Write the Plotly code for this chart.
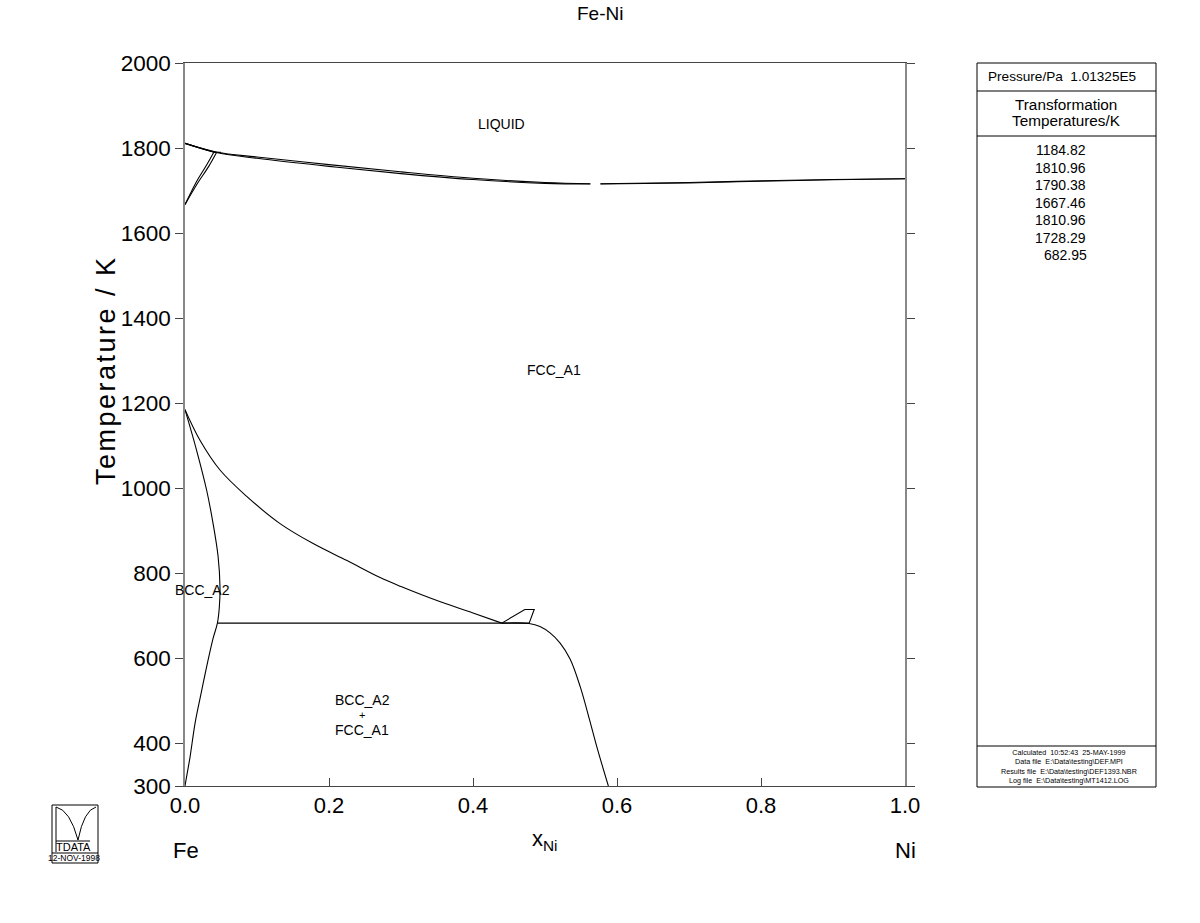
import plotly.graph_objects as go

# ---------------- data ----------------
liq_x = [0.0, 0.045, 0.1, 0.2, 0.3, 0.4, 0.5, 0.563]
liq_y = [1811, 1790, 1779, 1761, 1744, 1729, 1719, 1716]
sol_x = [0.0, 0.045, 0.1, 0.2, 0.3, 0.4, 0.5, 0.563]
sol_y = [1811, 1789, 1776, 1757, 1740, 1726, 1717, 1715.5]
liq2_x = [0.577, 0.7, 0.8, 0.9, 1.0]
liq2_y = [1716, 1719, 1723, 1726, 1728]
sol2_x = [0.577, 0.7, 0.8, 0.9, 1.0]
sol2_y = [1715.5, 1718, 1722, 1725.5, 1728]

delta_sol_x = [0.0, 0.040]
delta_sol_y = [1811, 1790]
delta_a_x = [0.0, 0.015, 0.030, 0.040]
delta_a_y = [1667, 1718, 1760, 1790]
delta_b_x = [0.0, 0.017, 0.033, 0.044]
delta_b_y = [1667, 1716, 1757, 1790]
perit_x = [0.040, 0.050]
perit_y = [1790, 1790]

fcc_x = [0.0, 0.0208, 0.0486, 0.0857, 0.132, 0.178, 0.225, 0.271, 0.3, 0.35, 0.4, 0.44]
fcc_y = [1185, 1113, 1043, 981, 917, 870, 830, 790, 769, 736, 707, 683]

bcc_x = [0.0, 0.016, 0.030, 0.039, 0.046, 0.0486, 0.0477, 0.045,
         0.039, 0.030, 0.022, 0.014, 0.007, 0.002, 0.0]
bcc_y = [1185, 1090, 996, 917, 839, 768, 721, 683,
         647, 580, 515, 448, 368, 320, 300]

eut_x = [0.045, 0.478]
eut_y = [683, 683]

fcc2_x = [0.440, 0.478, 0.493, 0.507, 0.521, 0.535, 0.549, 0.562, 0.572, 0.588]
fcc2_y = [683, 682, 675, 660, 636, 598, 533, 455, 392, 300]

spike_x = [0.440, 0.472, 0.485, 0.478]
spike_y = [683, 715, 715, 683]

x_ticks = [0.0, 0.2, 0.4, 0.6, 0.8, 1.0]
x_tick_text = ["0.0", "0.2", "0.4", "0.6", "0.8", "1.0"]
y_ticks = [300, 400, 600, 800, 1000, 1200, 1400, 1600, 1800, 2000]

phase_labels = ["LIQUID", "FCC_A1", "BCC_A2", "BCC_A2", "+", "FCC_A1"]
phase_x = [0.439, 0.513, 0.024, 0.246, 0.246, 0.246]
phase_y = [1856, 1278, 761, 502, 467, 431]
phase_size = [14, 14, 14, 14, 11, 14]

trans_temps = ["1184.82", "1810.96", "1790.38", "1667.46", "1810.96", "1728.29", "682.95"]
footer_lines = ["Calculated  10:52:43  25-MAY-1999",
                "Data file  E:\\Data\\testing\\DEF.MPI",
                "Results file  E:\\Data\\testing\\DEF1393.NBR",
                "Log file  E:\\Data\\testing\\MT1412.LOG"]

# ---------------- figure ----------------
FONT = "Liberation Sans, Arial, sans-serif"
L, R, T, B = 185, 905, 63, 786


def px(xp):
    return (xp - L) / (R - L)


def py(yp):
    return (B - yp) / (B - T)


fig = go.Figure()

curves = [
    (liq_x, liq_y, "spline"), (sol_x, sol_y, "spline"),
    (liq2_x, liq2_y, "spline"), (sol2_x, sol2_y, "spline"),
    (delta_sol_x, delta_sol_y, "linear"), (delta_a_x, delta_a_y, "spline"),
    (delta_b_x, delta_b_y, "spline"), (perit_x, perit_y, "linear"),
    (fcc_x, fcc_y, "spline"), (bcc_x, bcc_y, "spline"),
    (eut_x, eut_y, "linear"), (fcc2_x, fcc2_y, "spline"),
    (spike_x, spike_y, "linear"),
]
for cx, cy, shp in curves:
    ln = dict(color="black", width=1.1, shape=shp)
    if shp == "spline":
        ln["smoothing"] = 1.0
    fig.add_trace(go.Scatter(x=cx, y=cy, mode="lines", line=ln,
                             showlegend=False, hoverinfo="skip"))

for t, x, y, s in zip(phase_labels, phase_x, phase_y, phase_size):
    fig.add_annotation(x=x, y=y, text=t, showarrow=False,
                       font=dict(size=s, color="black", family=FONT))

ann = []
# title & axis titles
ann.append(dict(x=px(600), y=py(13), text="Fe-Ni", font=dict(size=19)))
ann.append(dict(x=px(106), y=py(370),
                text='<span style="letter-spacing:2.5px">Temperature / K</span>',
                textangle=-90, font=dict(size=27)))
ann.append(dict(x=px(545), y=py(840), text="x<sub>Ni</sub>", font=dict(size=22)))
ann.append(dict(x=px(186), y=py(851), text="Fe", font=dict(size=22)))
ann.append(dict(x=px(905), y=py(851), text="Ni", font=dict(size=22)))

# side panel text
ann.append(dict(x=px(1062), y=py(76), text="Pressure/Pa  1.01325E5", font=dict(size=13.6)))
ann.append(dict(x=px(1066), y=py(104), text="Transformation", font=dict(size=15.3)))
ann.append(dict(x=px(1066), y=py(120), text="Temperatures/K", font=dict(size=15.3)))
for i, v in enumerate(trans_temps):
    cx = 1060.5 if len(v) == 7 else 1065.5
    ann.append(dict(x=px(cx), y=py(150 + i * 17.5), text=v, font=dict(size=14)))
ann.append(dict(x=px(1069), y=py(766), text="<br>".join(footer_lines),
                font=dict(size=7.2)))

# logo
ann.append(dict(x=px(73), y=py(847), text="TDATA", font=dict(size=11)))
ann.append(dict(x=px(74), y=py(858), text="12-NOV-1998", font=dict(size=8.5)))

for a in ann:
    a.setdefault("showarrow", False)
    a["xref"] = "paper"
    a["yref"] = "paper"
    a.setdefault("xanchor", "center")
    a["yanchor"] = "middle"
    a["font"] = dict(color="black", family=FONT, **a["font"])
    fig.add_annotation(**a)

shapes = [
    dict(type="rect", x0=px(977), x1=px(1156), y0=py(787), y1=py(63)),
    dict(type="line", x0=px(977), x1=px(1156), y0=py(91), y1=py(91)),
    dict(type="line", x0=px(977), x1=px(1156), y0=py(136), y1=py(136)),
    dict(type="line", x0=px(977), x1=px(1156), y0=py(746), y1=py(746)),
    dict(type="rect", x0=px(52), x1=px(98), y0=py(863), y1=py(805)),
    dict(type="line", x0=px(52), x1=px(98), y0=py(853), y1=py(853)),
    dict(type="line", x0=px(56), x1=px(90), y0=py(841), y1=py(841)),
]
for s in shapes:
    s.update(xref="paper", yref="paper", line=dict(color="black", width=1))
    fig.add_shape(**s)

# logo arcs (M-like)
fig.add_shape(type="path", xref="paper", yref="paper",
              path=f"M {px(56)} {py(852)} L {px(56)} {py(807)} "
                   f"Q {px(70)} {py(810)} {px(78)} {py(840)} "
                   f"Q {px(84)} {py(810)} {px(96)} {py(807)}",
              line=dict(color="black", width=1))

fig.update_layout(
    width=1200, height=923,
    margin=dict(l=L, r=1200 - R, t=T, b=923 - B),
    paper_bgcolor="white", plot_bgcolor="white",
    font=dict(family=FONT, color="black"),
    xaxis=dict(range=[0, 1], tickvals=x_ticks, ticktext=x_tick_text,
               showgrid=False, zeroline=False, showline=True, mirror=True,
               linecolor="#444", linewidth=1, ticks="inside", ticklen=8,
               tickcolor="#444", tickfont=dict(size=22, family=FONT, color="black")),
    yaxis=dict(range=[300, 2000], tickvals=y_ticks,
               showgrid=False, zeroline=False, showline=True, mirror="ticks",
               linecolor="#888", linewidth=1.5, ticks="outside", ticklen=8,
               tickcolor="#444", tickfont=dict(size=22.5, family=FONT, color="black")),
)

fig.write_html("out.html")
